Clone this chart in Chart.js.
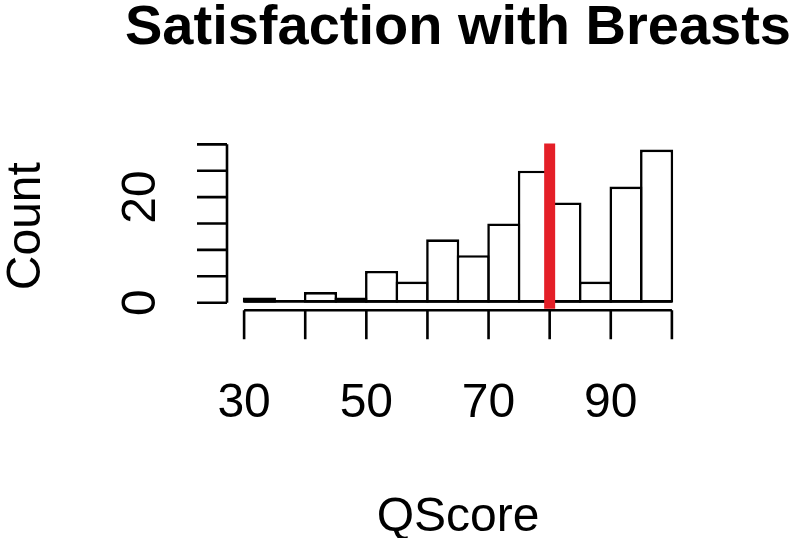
<!DOCTYPE html>
<html>
<head>
<meta charset="utf-8">
<title>Satisfaction with Breasts</title>
<script src="https://cdn.jsdelivr.net/npm/chart.js@4/dist/chart.umd.min.js"></script>
<style>
  html, body { margin: 0; padding: 0; background: #fff; }
  canvas { display: block; }
</style>
</head>
<body>
<canvas id="histChart" width="800" height="538"></canvas>
<script>
// Histogram data (bin edges every 5 points)
const binEdges = [30, 35, 40, 45, 50, 55, 60, 65, 70, 75, 80, 85, 90, 95, 100];
const counts = [1, 0, 2, 1, 6, 4, 12, 9, 15, 25, 19, 4, 22, 29];
const xTicks = [30, 40, 50, 60, 70, 80, 90, 100];
const xTickLabels = [30, 50, 70, 90];
const yTicks = [0, 5, 10, 15, 20, 25, 30];
const yTickLabels = [0, 20];
const cutoff = 80;

const titleText = 'Satisfaction with Breasts';
const xTitle = 'QScore';
const yTitle = 'Count';

// R-like plot range (4% extension)
const xMin = 27.2, xMax = 102.8;
const yMin = -1.16, yMax = 30.16;

const points = counts.map((c, i) => ({ x: (binEdges[i] + binEdges[i + 1]) / 2, y: c }));

const LW = 2.6;
const FONT = '"Liberation Sans", Arial, Helvetica, sans-serif';

// Draw axes, labels, cut-off line like base R graphics
const rAxes = {
  id: 'rAxes',
  afterDatasetsDraw(chart) {
    const ctx = chart.ctx;
    const xs = chart.scales.x, ys = chart.scales.y;
    const area = chart.chartArea;
    ctx.save();
    ctx.strokeStyle = '#000';
    ctx.lineWidth = LW;
    ctx.lineCap = 'butt';

    // baseline under bars (covers the empty bin), matches bar bottom borders
    const y0 = ys.getPixelForValue(0) - LW / 2;
    ctx.beginPath();
    ctx.moveTo(xs.getPixelForValue(binEdges[0]), y0);
    ctx.lineTo(xs.getPixelForValue(binEdges[binEdges.length - 1]), y0);
    ctx.stroke();

    // cut-off line
    ctx.strokeStyle = '#e41f27';
    ctx.lineWidth = 11;
    ctx.beginPath();
    ctx.moveTo(xs.getPixelForValue(cutoff), area.top);
    ctx.lineTo(xs.getPixelForValue(cutoff), area.bottom);
    ctx.stroke();

    ctx.strokeStyle = '#000';
    ctx.lineWidth = LW;

    // x axis
    const axY = area.bottom + 1.5;
    ctx.beginPath();
    ctx.moveTo(xs.getPixelForValue(xTicks[0]), axY);
    ctx.lineTo(xs.getPixelForValue(xTicks[xTicks.length - 1]), axY);
    xTicks.forEach(v => {
      const px = xs.getPixelForValue(v);
      ctx.moveTo(px, axY);
      ctx.lineTo(px, axY + 29);
    });
    ctx.stroke();

    // y axis
    const axX = area.left;
    ctx.beginPath();
    ctx.moveTo(axX, ys.getPixelForValue(yTicks[0]));
    ctx.lineTo(axX, ys.getPixelForValue(yTicks[yTicks.length - 1]));
    yTicks.forEach(v => {
      const py = ys.getPixelForValue(v);
      ctx.moveTo(axX, py);
      ctx.lineTo(axX - 30, py);
    });
    ctx.stroke();

    ctx.fillStyle = '#000';
    ctx.font = '48px ' + FONT;
    ctx.textAlign = 'center';
    ctx.textBaseline = 'alphabetic';
    xTickLabels.forEach(v => {
      ctx.fillText(String(v), xs.getPixelForValue(v), 417);
    });

    yTickLabels.forEach(v => {
      ctx.save();
      ctx.translate(155, ys.getPixelForValue(v));
      ctx.rotate(-Math.PI / 2);
      ctx.fillText(String(v), 0, 0);
      ctx.restore();
    });

    // axis titles
    const midX = (area.left + area.right) / 2;
    const midY = (area.top + area.bottom) / 2;
    ctx.fillText(xTitle, midX, 531);
    ctx.save();
    ctx.translate(40, midY);
    ctx.rotate(-Math.PI / 2);
    ctx.fillText(yTitle, 0, 0);
    ctx.restore();

    // main title
    ctx.font = 'bold 56px ' + FONT;
    ctx.fillText(titleText, midX, 44);
    ctx.restore();
  }
};

const ctx = document.getElementById('histChart').getContext('2d');
const histChart = new Chart(ctx, {
  type: 'bar',
  data: {
    datasets: [{
      label: 'Count',
      data: points,
      backgroundColor: '#fff',
      borderColor: '#000',
      borderWidth: LW,
      borderSkipped: false,
      barPercentage: 1.085,
      categoryPercentage: 1
    }]
  },
  options: {
    responsive: false,
    animation: false,
    devicePixelRatio: 1,
    layout: { padding: { left: 227, right: 111, top: 143.5, bottom: 229.2 } },
    plugins: {
      legend: { display: false },
      title: { display: false },
      tooltip: { enabled: false }
    },
    scales: {
      x: { type: 'linear', display: false, min: xMin, max: xMax, offset: false },
      y: { type: 'linear', display: false, min: yMin, max: yMax }
    }
  },
  plugins: [rAxes]
});
</script>
</body>
</html>
